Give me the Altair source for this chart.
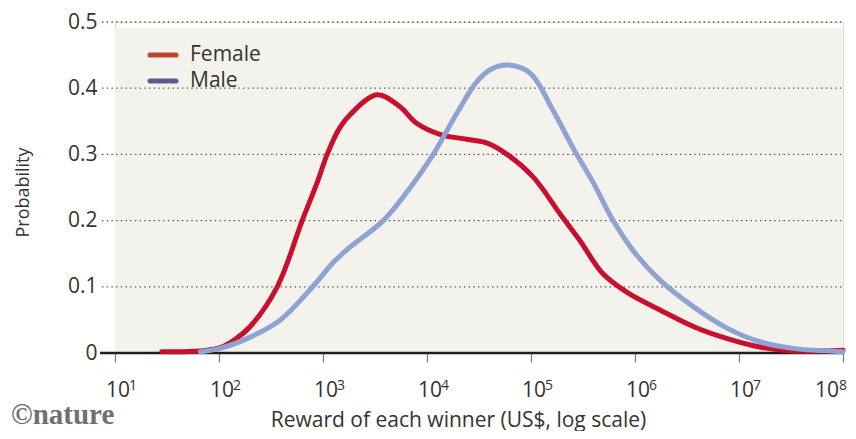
import altair as alt
import pandas as pd

# ---- data (x given as log10 of reward in US$) ----
female_log10_reward = [1.45, 1.82, 2.01, 2.15, 2.30, 2.56, 2.80, 2.95, 3.04, 3.16, 3.26,
                       3.52, 3.74, 3.90, 4.13, 4.38, 4.58, 4.77, 5.02, 5.28, 5.47, 5.69,
                       5.92, 6.24, 6.56, 6.88, 7.20, 7.52, 8.00]
female_prob = [0.002, 0.003, 0.008, 0.020, 0.040, 0.100, 0.200, 0.260, 0.300, 0.340, 0.360,
               0.390, 0.372, 0.347, 0.330, 0.323, 0.317, 0.300, 0.266, 0.210, 0.170, 0.120,
               0.092, 0.065, 0.040, 0.022, 0.009, 0.003, 0.004]

male_log10_reward = [1.82, 2.01, 2.30, 2.59, 2.90, 3.10, 3.26, 3.58, 3.84, 4.06, 4.29, 4.48,
                     4.62, 4.77, 4.99, 5.21, 5.40, 5.60, 5.79, 5.98, 6.24, 6.56, 6.88, 7.20,
                     7.52, 8.00]
male_prob = [0.002, 0.007, 0.024, 0.050, 0.100, 0.137, 0.160, 0.200, 0.250, 0.300, 0.363, 0.410,
             0.429, 0.435, 0.423, 0.367, 0.311, 0.257, 0.200, 0.155, 0.110, 0.070, 0.038, 0.017,
             0.007, 0.002]

series_names = ["Female", "Male"]
line_colors = ["#c8102e", "#8ea3d1"]
legend_colors = ["#b9462a", "#5c5a8c"]

y_ticks = [0.1, 0.2, 0.3, 0.4, 0.5]
x_tick_exponents = [1, 2, 3, 4, 5, 6, 7, 8]

x_title = "Reward of each winner (US$, log scale)"
y_title = "Probability"
credit = "©nature"

FONT = "Open Sans"
FS = 21
TXT = "#333333"
W, H = 728, 331

rows = []
for lx, p in zip(female_log10_reward, female_prob):
    rows.append({"series": "Female", "reward": 10 ** lx, "prob": p})
for lx, p in zip(male_log10_reward, male_prob):
    rows.append({"series": "Male", "reward": 10 ** lx, "prob": p})
df = pd.DataFrame(rows)

tick_df = pd.DataFrame({
    "reward": [10.0 ** e for e in x_tick_exponents],
    "base": ["10"] * len(x_tick_exponents),
    "exp": [str(e) for e in x_tick_exponents],
})
last_tick = tick_df["reward"].max()

xscale = alt.Scale(type="log", domain=[1e1, 1e8])
yscale = alt.Scale(domain=[0, 0.5])

bg = alt.Chart(pd.DataFrame({"a": [0]})).mark_rect(color="#f4f2ec").encode(
    x=alt.X("x0:Q", scale=xscale), x2="x1:Q",
    y=alt.Y("y0:Q", scale=yscale), y2="y1:Q",
).transform_calculate(x0="10", x1="100000000", y0="0", y1="0.491")

grid = alt.Chart(pd.DataFrame({"v": y_ticks})).mark_rule(
    color="#555555", strokeWidth=1.3, strokeDash=[1.4, 3.3]
).encode(
    y=alt.Y("v:Q", scale=yscale),
    x=alt.value(-13), x2=alt.value(W),
)

zero = alt.Chart(pd.DataFrame({"v": [0]})).mark_rule(
    color="#1e1e1e", strokeWidth=2.5
).encode(
    y=alt.Y("v:Q", scale=yscale),
    x=alt.value(-15), x2=alt.value(W),
)

lines = alt.Chart(df).mark_line(strokeWidth=5, interpolate="catmull-rom", strokeCap="round").encode(
    x=alt.X("reward:Q", scale=xscale,
            axis=alt.Axis(values=list(tick_df["reward"]), title=x_title, grid=False,
                          domain=False, labels=False,
                          ticks=True, tickSize=9, tickColor="#777777", tickWidth=1.2,
                          titleFont=FONT, titleFontSize=FS, titleFontWeight="normal",
                          titleColor=TXT, titleBaseline="alphabetic", titleY=73,
                          titleX=343, titleAlign="center")),
    y=alt.Y("prob:Q", scale=yscale,
            axis=alt.Axis(values=[0] + y_ticks, title=y_title, grid=False, domain=False,
                          ticks=False, labelPadding=18,
                          labelExpr="datum.value == 0 ? '0' : format(datum.value, '.1f')",
                          labelFont=FONT, labelFontSize=FS, labelColor=TXT,
                          titleFont=FONT, titleFontSize=18, titleFontWeight="normal",
                          titleColor=TXT, titleX=-92, titleY=170,
                          titleBaseline="middle", titleAlign="center")),
    color=alt.Color("series:N", scale=alt.Scale(domain=series_names, range=line_colors),
                    legend=None),
    order=alt.Order("reward:Q"),
)

# x tick labels: "10" plus a raised exponent
tick_base = alt.Chart(tick_df)
lab_main = tick_base.transform_filter(f"datum.reward < {last_tick}").mark_text(
    align="left", baseline="alphabetic", font=FONT, fontSize=FS, color=TXT, dx=-9
).encode(x=alt.X("reward:Q", scale=xscale), y=alt.value(375), text="base:N")
lab_exp = tick_base.transform_filter(f"datum.reward < {last_tick}").mark_text(
    align="left", baseline="alphabetic", font=FONT, fontSize=14, color=TXT, dx=14
).encode(x=alt.X("reward:Q", scale=xscale), y=alt.value(368), text="exp:N")
lab_main_last = tick_base.transform_filter(f"datum.reward >= {last_tick}").mark_text(
    align="left", baseline="alphabetic", font=FONT, fontSize=FS, color=TXT, dx=-28
).encode(x=alt.X("reward:Q", scale=xscale), y=alt.value(375), text="base:N")
lab_exp_last = tick_base.transform_filter(f"datum.reward >= {last_tick}").mark_text(
    align="left", baseline="alphabetic", font=FONT, fontSize=14, color=TXT, dx=-4
).encode(x=alt.X("reward:Q", scale=xscale), y=alt.value(368), text="exp:N")

layers = [bg, grid, zero, lines, lab_main, lab_exp, lab_main_last, lab_exp_last]

for i, (name, col) in enumerate(zip(series_names, legend_colors)):
    yy = 33 + 26 * i
    layers.append(
        alt.Chart(pd.DataFrame({"a": [0]})).mark_rule(
            color=col, strokeWidth=5, strokeCap="round"
        ).encode(x=alt.value(35), x2=alt.value(61), y=alt.value(yy))
    )
    layers.append(
        alt.Chart(pd.DataFrame({"t": [name]})).mark_text(
            align="left", baseline="middle", font=FONT, fontSize=FS, color=TXT
        ).encode(text="t:N", x=alt.value(75), y=alt.value(yy))
    )

layers.append(
    alt.Chart(pd.DataFrame({"t": [credit]})).mark_text(
        align="left", baseline="alphabetic", font="Liberation Serif", fontSize=29,
        fontWeight="bold", color="#707070"
    ).encode(text="t:N", x=alt.value(-104), y=alt.value(402))
)

chart = alt.layer(*layers).properties(
    width=W, height=H,
    autosize=alt.AutoSizeParams(type="none"),
    padding={"left": 107, "top": 14, "right": 5, "bottom": 78},
).configure_view(stroke=None).configure(background="white")

chart.save("out.html", embed_options={"renderer": "svg", "actions": False})
